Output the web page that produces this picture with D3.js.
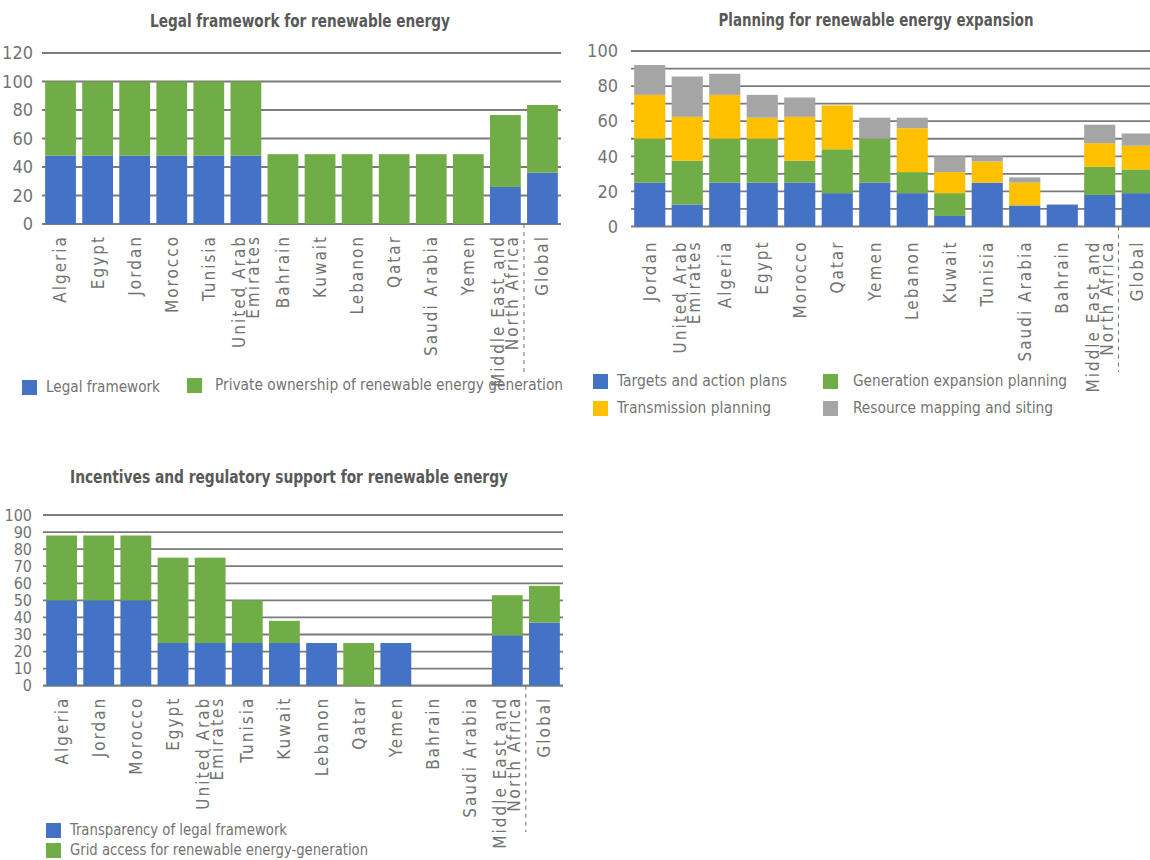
<!DOCTYPE html>
<html>
<head>
<meta charset="utf-8">
<script src="https://cdn.jsdelivr.net/npm/d3@7"></script>
<style>
  html, body { margin: 0; padding: 0; background: #fff; }
  svg { display: block; }
</style>
</head>
<body>
<svg id="chart" width="1150" height="860"></svg>
<script>
// ---------------- DATA ----------------
const legalCategories = ["Algeria", "Egypt", "Jordan", "Morocco", "Tunisia", "United Arab Emirates", "Bahrain", "Kuwait", "Lebanon", "Qatar", "Saudi Arabia", "Yemen", "Middle East and North Africa", "Global"];
const legalFramework = [48, 48, 48, 48, 48, 48, 0, 0, 0, 0, 0, 0, 26, 36];
const privateOwnership = [52, 52, 52, 52, 52, 52, 49, 49, 49, 49, 49, 49, 50.5, 47.5];
const legalTicks = [0, 20, 40, 60, 80, 100, 120];

const planCategories = ["Jordan", "United Arab Emirates", "Algeria", "Egypt", "Morocco", "Qatar", "Yemen", "Lebanon", "Kuwait", "Tunisia", "Saudi Arabia", "Bahrain", "Middle East and North Africa", "Global"];
const targetsActionPlans = [25, 12.5, 25, 25, 25, 19, 25, 19, 6, 25, 12, 12.5, 18, 19];
const generationExpansion = [25, 25, 25, 25, 12.5, 25, 25, 12, 13, 0, 0, 0, 16, 13.5];
const transmissionPlanning = [25, 25, 25, 12, 25, 25, 0, 25, 12, 12, 13, 0, 13.5, 13.5];
const resourceMapping = [17, 23, 12, 13, 11, 0, 12, 6, 9, 3, 3, 0, 10.5, 7];
const planGrid = [0, 10, 20, 30, 40, 50, 60, 70, 80, 90, 100];
const planTickLabels = [0, 20, 40, 60, 80, 100];

const incCategories = ["Algeria", "Jordan", "Morocco", "Egypt", "United Arab Emirates", "Tunisia", "Kuwait", "Lebanon", "Qatar", "Yemen", "Bahrain", "Saudi Arabia", "Middle East and North Africa", "Global"];
const transparencyLegal = [50, 50, 50, 25, 25, 25, 25, 25, 0, 25, 0, 0, 29.5, 37];
const gridAccess = [38, 38, 38, 50, 50, 25, 13, 0, 25, 0, 0, 0, 23.5, 21.5];
const incTicks = [0, 10, 20, 30, 40, 50, 60, 70, 80, 90, 100];

const titles = ["Legal framework for renewable energy", "Planning for renewable energy expansion", "Incentives and regulatory support for renewable energy"];
const labelLines = {
  "United Arab Emirates": ["United Arab", "Emirates"],
  "Middle East and North Africa": ["Middle East and", "North Africa"]
};

// ---------------- STYLE ----------------
const BLUE = "#4472c4", GREEN = "#70ad47", YELLOW = "#ffc000", GRAY = "#a5a5a5";
const TEXT = "#737373";
const FONT = "'Liberation Sans Narrow','Arial Narrow','DejaVu Sans Condensed','Roboto Condensed',sans-serif";
const svg = d3.select("#chart");

function drawChart(o) {
  const g = svg.append("g");
  const x = d3.scaleBand().domain(o.cats).range(o.xRange).paddingInner(0.17).paddingOuter(0.085);
  const y = d3.scaleLinear().domain([0, o.yMax]).range(o.yRange);

  // gridlines
  g.append("g").selectAll("line").data(o.grid).join("line")
    .attr("x1", o.gridX[0]).attr("x2", o.gridX[1])
    .attr("y1", d => y(d)).attr("y2", d => y(d))
    .attr("stroke", "#7b7b7b").attr("stroke-width", d => d === 0 ? 2.2 : 1.8);

  // y axis labels (axis without domain/ticks)
  const yAxis = d3.axisLeft(y).tickValues(o.tickLabels).tickSize(0).tickPadding(0);
  const ya = g.append("g").attr("transform", `translate(${o.tickLabelX},0)`).call(yAxis);
  ya.select(".domain").remove();
  ya.selectAll("text").attr("font-family", FONT).attr("font-size", o.tickFont).attr("fill", TEXT);

  // stacked bars
  const rows = o.cats.map((c, i) => {
    const r = { cat: c };
    o.series.forEach(s => r[s.name] = s.values[i]);
    return r;
  });
  const stack = d3.stack().keys(o.series.map(s => s.name))(rows);
  stack.forEach((layer, li) => {
    g.append("g").attr("fill", o.series[li].color)
      .selectAll("rect").data(layer).join("rect")
      .attr("x", d => x(d.data.cat))
      .attr("width", x.bandwidth())
      .attr("y", d => y(d[1]))
      .attr("height", d => Math.max(0, y(d[0]) - y(d[1])));
  });

  // x labels
  const xa = g.append("g");
  o.cats.forEach(c => {
    const lines = labelLines[c] || [c];
    const cx = x(c) + x.bandwidth() / 2;
    const t = xa.append("text")
      .attr("transform", `translate(${cx},${o.yRange[0] + o.labelGap}) rotate(-90)`)
      .attr("text-anchor", "end").attr("font-family", FONT).attr("font-size", 17)
      .attr("letter-spacing", "2px").attr("fill", TEXT);
    const lh = 14;
    lines.forEach((ln, i) => {
      t.append("tspan").attr("x", 0)
        .attr("y", (i - (lines.length - 1) / 2) * lh)
        .attr("dy", "0.35em").text(ln);
    });
  });

  // dashed separator between region aggregate and global
  const last = o.cats[o.cats.length - 1];
  const sepX = x(last) - x.step() * x.paddingInner() / 2;
  g.append("line").attr("x1", sepX).attr("x2", sepX)
    .attr("y1", o.yRange[0]).attr("y2", o.dashBottom)
    .attr("stroke", "#707070").attr("stroke-width", 1).attr("stroke-dasharray", "4,4");

  // title
  g.append("text").attr("x", o.title.x).attr("y", o.title.y)
    .attr("text-anchor", "middle").attr("font-family", FONT).attr("font-weight", "bold")
    .attr("font-size", 18).attr("fill", "#595959")
    .attr("textLength", o.title.w).attr("lengthAdjust", "spacingAndGlyphs")
    .text(o.title.text);

  // legend
  o.legend.forEach(l => {
    g.append("rect").attr("x", l.x).attr("y", l.y - 12).attr("width", 15).attr("height", 15).attr("fill", l.color);
    g.append("text").attr("x", l.tx).attr("y", l.y)
      .attr("font-family", FONT).attr("font-size", 16).attr("fill", TEXT)
      .attr("textLength", l.w).attr("lengthAdjust", "spacingAndGlyphs")
      .text(l.text);
  });
}

drawChart({
  cats: legalCategories,
  series: [
    { name: "Legal framework", values: legalFramework, color: BLUE },
    { name: "Private ownership of renewable energy generation", values: privateOwnership, color: GREEN }
  ],
  yMax: 120, yRange: [224, 53], xRange: [42, 561], gridX: [42, 561],
  grid: legalTicks, tickLabels: legalTicks, tickLabelX: 33, tickFont: 18,
  labelGap: 11, dashBottom: 372,
  title: { text: titles[0], x: 300, y: 27, w: 300 },
  legend: [
    { color: BLUE, text: "Legal framework", x: 22, y: 392, tx: 46, w: 114 },
    { color: GREEN, text: "Private ownership of renewable energy generation", x: 187, y: 390, tx: 215, w: 348 }
  ]
});

drawChart({
  cats: planCategories,
  series: [
    { name: "Targets and action plans", values: targetsActionPlans, color: BLUE },
    { name: "Generation expansion planning", values: generationExpansion, color: GREEN },
    { name: "Transmission planning", values: transmissionPlanning, color: YELLOW },
    { name: "Resource mapping and siting", values: resourceMapping, color: GRAY }
  ],
  yMax: 100, yRange: [226.5, 51], xRange: [631, 1156], gridX: [631, 1150],
  grid: planGrid, tickLabels: planTickLabels, tickLabelX: 618, tickFont: 18,
  labelGap: 14, dashBottom: 372,
  title: { text: titles[1], x: 876, y: 26, w: 315 },
  legend: [
    { color: BLUE, text: "Targets and action plans", x: 593, y: 386, tx: 617, w: 170 },
    { color: GREEN, text: "Generation expansion planning", x: 823, y: 386, tx: 853, w: 214 },
    { color: YELLOW, text: "Transmission planning", x: 593, y: 413, tx: 617, w: 154 },
    { color: GRAY, text: "Resource mapping and siting", x: 823, y: 413, tx: 853, w: 200 }
  ]
});

drawChart({
  cats: incCategories,
  series: [
    { name: "Transparency of legal framework", values: transparencyLegal, color: BLUE },
    { name: "Grid access for renewable energy-generation", values: gridAccess, color: GREEN }
  ],
  yMax: 100, yRange: [685.7, 515], xRange: [43, 563], gridX: [43, 563],
  grid: incTicks, tickLabels: incTicks, tickLabelX: 32, tickFont: 16,
  labelGap: 11, dashBottom: 832,
  title: { text: titles[2], x: 289, y: 483, w: 438 },
  legend: [
    { color: BLUE, text: "Transparency of legal framework", x: 46, y: 835, tx: 70, w: 217 },
    { color: GREEN, text: "Grid access for renewable energy-generation", x: 46, y: 855, tx: 70, w: 298 }
  ]
});
</script>
</body>
</html>
